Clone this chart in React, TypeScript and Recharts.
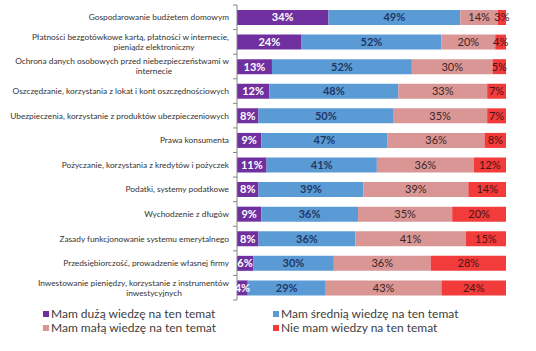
import { BarChart, Bar, XAxis, YAxis, LabelList } from 'recharts'

const topics = [
  'Gospodarowanie budżetem domowym',
  'Płatności bezgotówkowe kartą, płatności w internecie,\npieniądz elektroniczny',
  'Ochrona danych osobowych przed niebezpieczeństwami w\ninternecie',
  'Oszczędzanie, korzystania z lokat i kont oszczędnościowych',
  'Ubezpieczenia, korzystanie z produktów ubezpieczeniowych',
  'Prawa konsumenta',
  'Pożyczanie, korzystania z kredytów i pożyczek',
  'Podatki, systemy podatkowe',
  'Wychodzenie z długów',
  'Zasady funkcjonowanie systemu emerytalnego',
  'Przedsiębiorczość, prowadzenie własnej firmy',
  'Inwestowanie pieniędzy, korzystanie z instrumentów\ninwestycyjnych',
]

const high = [34, 24, 13, 12, 8, 9, 11, 8, 9, 8, 6, 4]
const medium = [49, 52, 52, 48, 50, 47, 41, 39, 36, 36, 30, 29]
const low = [14, 20, 30, 33, 35, 36, 36, 39, 35, 41, 36, 43]
const none = [3, 4, 5, 7, 7, 8, 12, 14, 20, 15, 28, 24]

const seriesNames = [
  'Mam dużą wiedzę na ten temat',
  'Mam średnią wiedzę na ten temat',
  'Mam małą wiedzę na ten temat',
  'Nie mam wiedzy na ten temat',
]
const colors = ['#7030A0', '#5B9BD5', '#DA9694', '#F23B3B']

const data = topics.map((topic, i) => ({
  topic,
  high: high[i],
  medium: medium[i],
  low: low[i],
  none: none[i],
}))

const W = 536
const H = 351
const margin = { top: 5, right: 30, bottom: 51, left: 0 }
const band = (H - margin.top - margin.bottom) / topics.length
const font = 'Lato, "Open Sans", sans-serif'
const tickFont = 8.3

function TopicTick(props: any) {
  const { x, y, payload, index } = props
  const lines: string[] = String(payload.value).split('\n')
  const axisX = x + 8
  return (
    <g>
      <line x1={axisX - 4} x2={axisX} y1={y - band / 2} y2={y - band / 2} stroke="#868686" />
      {index === topics.length - 1 && (
        <line x1={axisX - 4} x2={axisX} y1={y + band / 2} y2={y + band / 2} stroke="#868686" />
      )}
      {lines.length === 1 ? (
        <text x={x} y={y} dy={3} textAnchor="end" fontSize={tickFont} fontFamily={font} fill="#333">
          {lines[0]}
        </text>
      ) : (
        <>
          <text x={x} y={y} dy={-2} textAnchor="end" fontSize={tickFont} fontFamily={font} fill="#333">
            {lines[0]}
          </text>
          <text x={x - 75} y={y} dy={8} textAnchor="middle" fontSize={tickFont} fontFamily={font} fill="#333">
            {lines[1]}
          </text>
        </>
      )}
    </g>
  )
}

const pct = (v: any) => `${v}%`

export default function App() {
  return (
    <div style={{ position: 'absolute', left: 0, top: 0, width: W, height: H, background: '#fff', fontFamily: font }}>
      <BarChart width={W} height={H} data={data} layout="vertical" margin={margin} barSize={15}>
        <XAxis type="number" domain={[0, 100]} hide />
        <YAxis
          type="category"
          dataKey="topic"
          width={237}
          interval={0}
          axisLine={{ stroke: '#868686' }}
          tickLine={false}
          tick={<TopicTick />}
        />
        <Bar dataKey="high" stackId="a" fill={colors[0]} isAnimationActive={false}>
          <LabelList dataKey="high" position="center" formatter={pct} fill="#fff" fontWeight="bold" fontSize={11} fontFamily={font} />
        </Bar>
        <Bar dataKey="medium" stackId="a" fill={colors[1]} isAnimationActive={false}>
          <LabelList dataKey="medium" position="center" formatter={pct} fill="#1F3864" fontWeight="bold" fontSize={11} fontFamily={font} />
        </Bar>
        <Bar dataKey="low" stackId="a" fill={colors[2]} isAnimationActive={false}>
          <LabelList dataKey="low" position="center" formatter={pct} fill="#3a2626" fontSize={11} fontFamily={font} />
        </Bar>
        <Bar dataKey="none" stackId="a" fill={colors[3]} isAnimationActive={false}>
          <LabelList dataKey="none" position="center" formatter={pct} fill="#4a1414" fontSize={11} fontFamily={font} />
        </Bar>
      </BarChart>
      {/* legend, two columns like the Excel original */}
      {seriesNames.map((name, i) => (
        <div
          key={name}
          style={{
            position: 'absolute',
            left: i % 2 === 0 ? 43 : 273,
            top: i < 2 ? 306 : 320,
            display: 'flex',
            alignItems: 'center',
            fontSize: 12,
            color: '#404040',
            whiteSpace: 'nowrap',
          }}
        >
          <span style={{ width: 6, height: 6, background: colors[i], marginRight: 2, display: 'inline-block' }} />
          {name}
        </div>
      ))}
    </div>
  )
}
